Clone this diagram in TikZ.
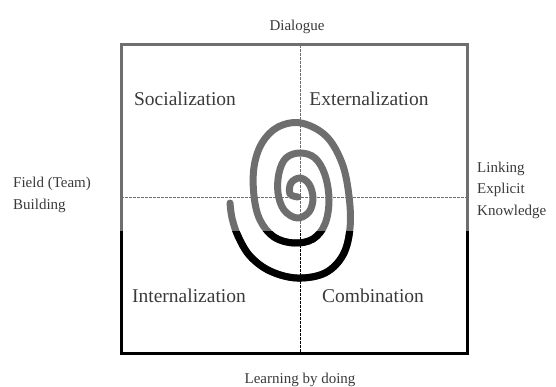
\documentclass[tikz,border=0pt]{standalone}
\usepackage{fontspec}
\setmainfont{Liberation Serif}
\usetikzlibrary{positioning}
\definecolor{scangray}{HTML}{6E6E6E}
\definecolor{inkgray}{HTML}{3A3A3A}
\tikzset{
  Qtext/.style={font=\fontsize{19.5}{22}\selectfont, text=inkgray, inner sep=0pt},
  Stext/.style={font=\fontsize{15}{21.5}\selectfont, text=inkgray, align=left,
                inner sep=0pt},
  Edge/.style={line width=3pt},
  Split/.style={line width=0.8pt, dash pattern=on 3pt off 1pt},
  Coil/.style={line width=7pt, line cap=round, line join=round}
}
\newcommand{\drawcoil}[1]{%
  \draw[Coil,#1] plot[smooth, tension=0.6] coordinates {
    (230,203) (232,218) (238,236) (250,256) (270,271) (297,278) (325,273)
    (343,255) (350,228) (349,196) (342,163) (326,136) (301,123) (278,127)
    (262,143) (254,167) (254,196) (260,220) (274,237) (294,243) (313,239)
    (325,224) (329,200) (325,175) (315,158) (300,153) (286,158) (279,173)
    (278,193) (284,210) (297,218) (309,212) (313,198) (309,184) (300,178)
    (291,183) (290,194) (298,197)};}

\begin{document}
\begin{tikzpicture}[x=1pt, y=-1pt]
  \useasboundingbox (0,0) rectangle (556,387);

  % frame and quadrant lines
  \draw[Edge, scangray] (121,45) rectangle (467,353);
  \draw[Split, scangray] (300,45) -- (300,353);
  \draw[Split, scangray] (121,197) -- (467,197);

  % the spiral, gray on top and black below
  \drawcoil{scangray}
  \begin{scope}
    \clip (0,231) rectangle (556,387);
    \draw[Edge] (121,45) rectangle (467,353);
    \draw[Split] (300,45) -- (300,353);
    \drawcoil{black}
  \end{scope}

  % quadrants
  \node[Qtext] (soc) at (185,99) {Socialization};
  \node[Qtext] (ext) at (369,99) {Externalization};
  \node[Qtext] (int) at (189,296) {Internalization};
  \node[Qtext] (com) at (373,296) {Combination};

  % side labels
  \node[Stext] (dia) at (297,27) {Dialogue};
  \node[Stext, anchor=west] (fld) at (13,195) {Field (Team)\\Building};
  \node[Stext, anchor=west] (lnk) at (477,190) {Linking\\Explicit\\Knowledge};
  \node[Stext] (lrn) at (300,380) {Learning by doing};
\end{tikzpicture}
\end{document}
